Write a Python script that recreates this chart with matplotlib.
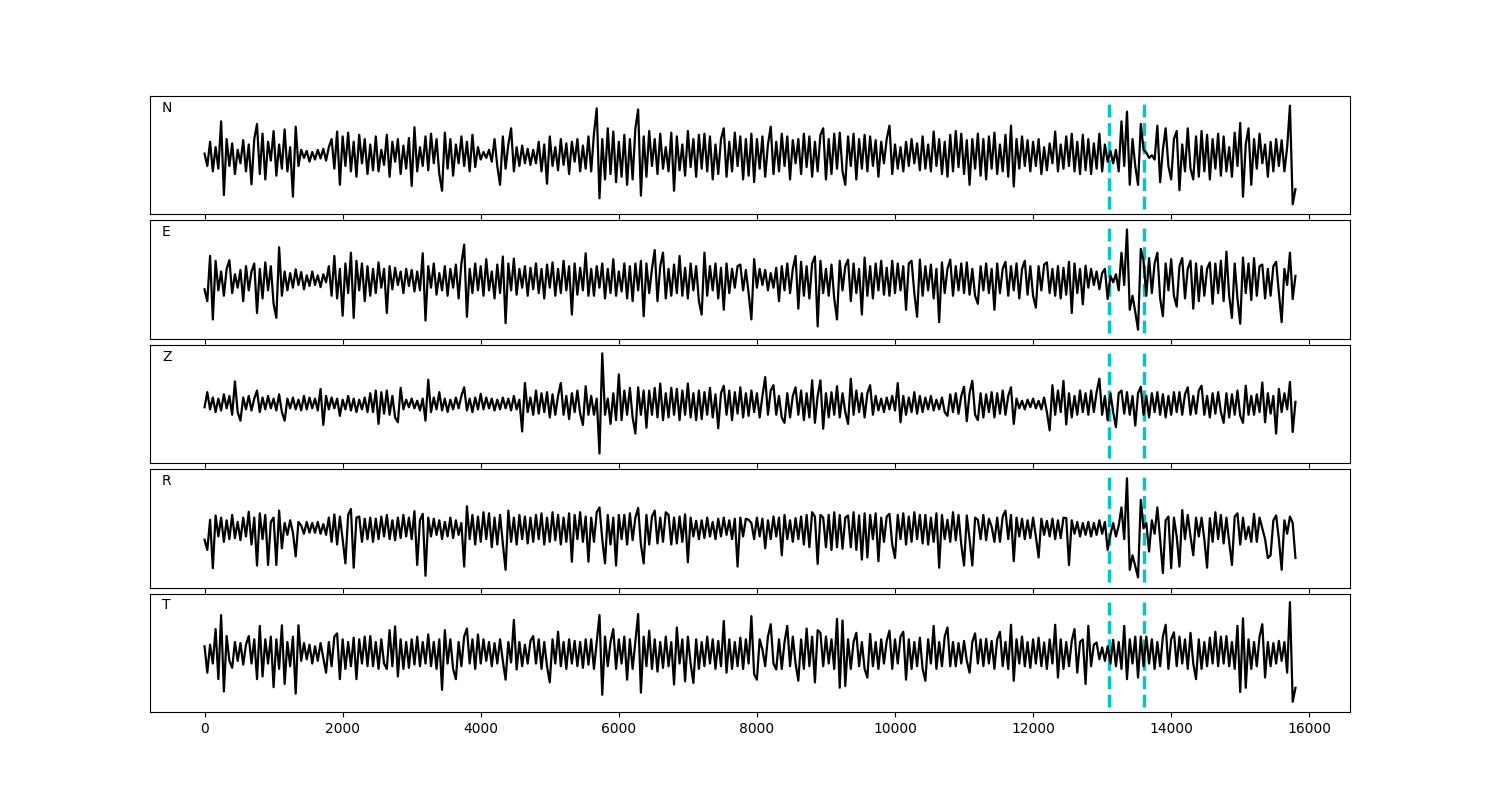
import numpy as np
import matplotlib
matplotlib.use("Agg")
import matplotlib.pyplot as plt

# sample spacing of the traces (x units)
dt = 40
# picks shown as dashed lines
picks = [13100, 13600]
labels = ["N", "E", "Z", "R", "T"]

# traces, amplitudes in 1/100 of the normalised scale
n_vals = [
    3, -20, 25, -30, 15, -25, 63, -74, 30, -20, 22, -35, 10, -15, 28, -30, 20, -54, 30, 58,
    -35, 40, -45, 25, -10, 45, -38, 20, -25, 48, -30, 15, -77, 53, -20, 10, -5, 8, -12, 6,
    -8, 10, -6, 12, -10, 15, 30, -25, 44, -55, 35, -20, 42, -30, 25, -40, 38, -15, 30, -35,
    20, -28, 35, -30, 10, -18, 38, -40, 25, -12, 30, -35, 18, -25, 32, -57, 52, -30, 15, -20,
    35, -28, 40, -15, 30, -35, -66, 42, -25, 30, -38, 20, -15, 35, -20, 25, -30, 38, -22, 15,
    -8, 6, -5, 10, -12, 30, -20, -55, 35, -25, 20, 50, -30, 15, -20, 18, -15, 12, -18, 10,
    -15, 25, -30, 20, -53, 35, -20, 15, -28, 30, -18, 22, -35, 25, -12, 30, -30, 18, -25, 35,
    -30, 40, 87, -80, 30, -45, 50, -35, 44, -50, 25, -40, 38, -55, 30, -45, 50, 85, -75, 35,
    -40, 45, -20, 30, -35, 40, -25, 15, -30, 42, -66, 35, -28, 20, -38, 45, -22, 30, -40, 38,
    -25, 40, -30, 35, -45, 20, -35, 30, 50, -40, 25, -30, 42, -20, 35, -45, 30, -38, 40, -50,
    30, -25, 35, -40, 20, 53, -35, 25, -30, 40, -20, 35, -45, 28, -15, 30, -35, 40, -22, 35,
    -40, 25, -30, 38, 50, -45, 30, -35, 40, -25, 42, -30, -55, 35, -20, 40, -45, 30, -25, 38,
    -30, 35, -20, 28, -40, 25, -15, 30, 55, -35, 20, -25, 15, -30, 25, -20, 30, -15, 22, -28,
    35, -25, 20, -30, 44, -20, 30, -35, 25, -40, 38, -30, 45, -22, 40, -35, 28, -55, 30, -25,
    40, -38, 30, -45, 35, -25, 42, -35, 20, -30, 38, -40, 55, -58, 30, -25, 35, -20, 28, -30,
    25, -20, 30, -35, 15, -28, 22, -15, 44, -30, 20, -25, 35, -20, 40, -30, 25, -35, 38, -28,
    30, -35, 22, -25, 40, -30, 20, -12, 8, -15, 10, -30, 63, -20, 81, -55, 30, -20, -55, 58,
    10, 5, -5, 0, -8, 55, -50, 10, 50, -20, -45, 30, 45, -65, 20, -30, 50, -25, -45, 35,
    -40, 45, -30, 38, -45, 30, -25, 40, -38, 35, -30, 15, -40, 42, -20, 60, -77, 20, 50, -55,
    30, -25, 40, -15, 20, -40, 25, -30, 30, -20, 28, -30, 15, 92, -91, -63,
]

e_vals = [
    -18, -40, 44, -74, 35, -20, 15, -30, 20, 36, -25, 10, -15, 18, -40, 25, -20, 15, 30, -62,
    20, -35, 32, -20, 25, -45, -71, 60, -30, 15, -20, 12, -15, 19, -10, 14, -18, 8, -12, 15,
    -10, 8, -14, 10, -5, 25, -30, 44, -35, 20, -67, 30, -25, 50, -71, 35, -20, 30, -40, 25,
    -30, 20, -25, 32, -15, 20, -62, 25, -18, 22, -10, 15, -25, 20, -12, 18, -22, 15, -20, 49,
    -76, 25, -15, 30, -28, 12, -20, 25, -30, 20, -15, 28, -35, 30, 65, -69, 20, -25, 30, -20,
    25, -30, 38, -20, 15, -35, 28, -25, 43, -81, 30, -20, 39, -28, 20, -15, 25, -30, 22, -18,
    30, -25, 20, -35, 28, -15, 32, -30, 20, -25, 35, -20, 25, -65, 30, -28, 22, -20, 49, -30,
    20, -30, 25, -15, 30, -35, 20, -25, 38, -30, 15, -22, 30, -35, 25, -40, 30, -20, 35, -68,
    30, -25, 20, 55, -40, 25, 50, -35, 20, -30, 28, -25, 44, -30, 22, -35, 30, -20, 25, -40,
    -65, 50, -30, 25, -20, 30, -35, 22, -56, 30, -25, 20, -15, 25, 28, -20, 18, -25, -74, 38,
    -15, 20, -10, 18, -20, 12, -15, 22, -40, 25, -20, 30, -25, 20, 44, -54, 33, -30, 25, -35,
    30, 43, -87, 35, -25, 20, -30, 28, -35, -74, 35, -20, 25, 37, -40, 30, -25, 20, -65, 41,
    -30, 25, -35, 30, -20, 35, -28, 22, -30, 35, -25, 30, -20, 25, -56, 30, 35, -25, -69, 37,
    -30, 25, -20, 28, -35, 20, -79, 32, -25, 20, 37, -30, 25, -20, 30, -25, 32, -28, 20, -30,
    -45, 25, -20, 30, -25, 20, -56, 30, -25, 20, 33, -30, 25, -20, 30, -35, 20, 35, -28, 25,
    -30, -52, 25, -20, 28, 32, -25, 20, -30, 25, -35, 22, -28, 33, -62, 30, -25, 20, -46, 26,
    -15, 20, -10, 15, -18, 12, 20, -36, 7, -5, 10, -20, 50, -10, 93, -56, -30, -60, -93, 57,
    35, -30, 40, -25, 30, 50, -35, -68, 30, -20, 38, -30, -50, 25, 40, -35, 20, 35, -54, 30,
    -40, 25, -30, 20, 32, -45, 30, -25, 35, -40, 52, -30, -71, 30, -35, -82, 41, -25, 30, -38,
    40, -30, 25, 28, -35, 20, -30, 25, 33, -25, -79, 20, -10, 50, -36, 7,
]

z_vals = [
    -6, 22, -10, 12, -15, 10, -12, 18, -8, 15, -20, 42, -15, -31, 12, -10, 15, -12, 10, 25,
    -15, 12, -10, 15, -8, 10, -12, 18, -15, -31, 10, -8, 12, -10, 8, -12, 15, -10, 12, -8,
    10, -12, 28, -39, 15, -10, 12, -8, 10, -22, 8, -10, 15, -12, 10, -15, 8, -10, 12, -15,
    20, -15, 25, -37, 22, -18, 25, -20, 15, -25, -34, 30, -10, 8, -6, 10, -8, 6, -12, 10,
    -31, 45, -15, 12, -10, 22, -12, 10, -15, 8, -10, 12, -8, 15, 31, -12, 10, -15, 12, -10,
    19, -10, 12, -8, 10, -12, 8, -10, 12, -8, 10, -12, 15, -10, 8, -51, 39, -15, 12, -20,
    25, -18, 20, -15, 22, -25, 18, -20, 15, 39, -20, 15, -28, 20, -15, 25, -18, -39, 33, -20,
    15, -20, 10, -92, 94, -20, 10, -37, 20, -30, 55, -30, 25, -20, 30, -25, -55, 31, -20, 25,
    -44, 25, -20, 30, -25, 38, -30, 20, -25, 30, -20, 28, -30, 25, -20, 38, -25, 20, -30, 25,
    -28, 22, -20, 30, -25, 18, -45, 20, 34, -20, 25, -30, 22, -18, 31, -25, 20, -22, 25, -15,
    20, -25, 15, 50, -20, 25, 35, -20, 15, -25, -35, 20, -25, 15, 31, -20, 25, -30, 20, -25,
    44, -35, 15, 44, -46, 20, -25, 22, -20, 33, -25, 20, -15, -37, 47, -20, 25, -15, 20, -25,
    20, 35, -20, 15, -12, 10, -15, 12, -10, 15, -12, 39, -34, 15, -20, 12, -15, 22, -18, 15,
    -15, 12, -10, 15, -12, 8, -10, 12, -15, -22, 18, -15, 20, -18, 15, 32, -32, 20, 43, -20,
    -30, 20, -25, 18, -15, 22, -25, 20, -18, 25, -20, 15, 31, -37, 10, -8, 6, -10, 8, -6,
    10, -8, 6, -10, 12, -15, -49, 35, -20, 25, -15, 43, -38, 20, -25, 15, -20, 25, -15, 20,
    -20, 25, -15, 22, 47, -20, 15, -30, 20, -15, -43, 20, 25, -18, 22, -20, 15, -40, 20, 32,
    -20, 15, -25, 20, -15, 22, -20, 18, -25, 15, -20, 22, -15, 22, -20, 18, 31, -20, 15, -18,
    25, 34, -20, 15, -25, 20, -18, 22, -15, -35, 20, -25, 18, -20, 25, -22, -35, 34, -20, 15,
    -20, 18, -15, 40, -34, 20, -18, 15, -55, 28, -15, 20, -10, 41, -52, 4,
]

r_vals = [
    -21, -40, 16, -74, 24, -15, 20, -25, 15, -20, 25, -18, 12, -22, 20, -15, 31, -30, 20, -69,
    28, -20, 25, -68, 12, 20, -68, 33, -37, 10, -12, 15, -8, -52, 12, 5, -10, 12, -8, 10,
    -8, 12, -10, 8, -12, 20, -25, 26, -30, 22, -20, -65, 25, 36, -73, 20, 22, -25, 18, -20,
    20, -25, 18, -20, 22, -15, 25, -20, 15, -22, 20, -18, 25, -15, 20, -20, 32, -68, 15, 27,
    -88, 20, -15, 18, -12, 15, -20, 12, -15, 20, -18, 15, -12, 10, -71, 41, -20, 25, -30, 22,
    -25, 30, -20, 28, -35, 20, -30, 25, -28, -77, 33, -25, 20, -30, 25, -20, 22, -28, 20, -25,
    25, -20, 28, -30, 20, -25, 30, -22, 25, -30, 20, -25, 28, -62, 25, -20, 30, -25, 22, -62,
    20, -25, 30, 39, -20, -65, 25, -30, 20, -69, 25, -20, 25, -30, 28, -22, 20, 38, -30, -65,
    25, -30, 22, 33, -28, 20, -25, 30, 25, -30, 20, -28, 22, -25, 26, -63, 20, -15, 14, -20,
    15, -18, 20, -15, 12, -20, 18, -15, 20, -12, 15, -20, 18, -71, 20, -15, 18, 16, 10, -20,
    20, -15, 18, -37, 15, -20, 22, -15, 20, -50, 25, -20, 15, -25, 19, -20, 22, -30, 25, -35,
    30, 22, -66, 25, 20, -35, 25, -40, 30, -35, 25, -38, 20, 24, -35, 30, -40, 24, -58, 28,
    -54, 25, -20, 28, -61, 20, -25, 22, 27, -30, -55, 25, -20, 28, -30, 22, -25, 30, -20, 25,
    -28, 25, -30, 20, -25, 28, -73, 25, -20, 16, -25, 30, -22, 25, -30, -69, 24, -20, -69, 20,
    16, -20, 25, -22, 18, 3, -25, 20, -25, 22, 33, -20, 25, -61, 20, -15, 18, -20, 15, -18,
    20, -15, -54, 18, -12, 14, -15, 18, -20, 15, -18, 20, 19, -68, 15, -10, 12, -15, 10, -12,
    12, -15, 10, -12, 15, -10, 12, -40, -12, 10, -15, 5, 39, -20, 93, -77, -50, -70, -91, 53,
    0, 10, -43, 15, -10, 39, -20, -83, 15, 22, -74, 20, -15, -71, 34, -20, 25, -15, -50, 20,
    -15, 20, -20, -73, 19, -25, 30, -20, 25, -28, 20, -25, -68, 22, 28, -30, 20, -20, 3, -25,
    27, -25, 20, 0, -20, -55, -50, 15, 24, -20, -77, 15, -10, 22, 10, -55,
]

t_vals = [
    12, -37, 15, -20, 44, -49, 70, -72, 31, -15, -28, 20, -15, 18, -22, 15, 31, -20, 25, -49,
    50, -44, 25, -20, 30, -64, 25, -30, 51, -58, 20, -25, 30, -76, 51, -15, 18, -12, 15, -20,
    12, -15, 18, -10, -37, 20, -25, 30, 36, -49, 25, -30, 20, -25, 28, -49, 25, -20, 30, -25,
    31, -25, 20, -30, 25, -20, -30, 42, -25, 49, -44, 25, -30, 20, -28, 25, -22, 30, -25, 20,
    -20, 34, -25, 20, -30, 25, -69, 42, -20, 25, -30, -49, 20, -25, 30, 45, -20, 25, -30, 34,
    -20, 25, -15, 20, -25, 18, -20, 25, -15, -50, 20, -18, 61, -31, 20, -25, 15, -20, 22, 31,
    -20, 25, -30, 20, -25, -55, 25, -20, 39, -25, 20, -30, 25, -20, 22, -25, 20, -28, 25, -22,
    25, -30, 20, 70, -78, 30, -25, 20, 44, -30, 25, -20, 30, -50, 25, -30, 20, 72, -74, 30,
    -25, 41, -30, 25, -35, 20, -28, 30, -25, 20, -59, 47, -20, 25, -53, 30, -20, -56, 25, -30,
    20, -25, 30, -20, 25, -30, 22, -25, 59, -37, 25, -30, 20, -25, 28, -30, 25, -20, 68, -40,
    -50, 25, 6, -25, 30, 53, -20, -31, 25, -30, 20, 50, -25, 30, -20, -52, 25, -30, 45, -25,
    30, -55, 42, 37, -25, 30, -20, 25, -30, 63, -65, 60, -62, 25, -30, 20, 37, -25, 20, -30,
    -46, 35, -25, 20, -30, 25, -20, 22, 41, -30, 25, -20, 30, 39, -50, 25, -30, 20, -25, 28,
    -30, -52, 25, -20, 50, -30, 20, -25, 30, 47, -25, 20, -25, 18, -20, 22, -15, -37, 20, 36,
    -20, 25, -25, 26, -20, 22, -30, 25, 39, -25, 20, -30, 52, -52, 25, -20, 30, -25, 20, -28,
    25, -20, 28, -25, 19, -30, 25, -20, 52, -46, 25, -30, 20, -25, 22, 44, -37, 20, 25, -58,
    50, -25, 15, 19, -12, 10, -15, 12, -20, 24, -25, 20, -30, 50, -49, 25, -20, 30, -46, 30,
    -25, 30, -20, 25, -30, 20, -25, 30, 52, -30, 25, 38, -25, 30, -20, 25, -30, 37, -20, -49,
    25, -30, 20, -25, 28, -20, 39, -25, 30, -20, 31, -25, 20, -30, 50, -73, 64, -65, 25, -30,
    20, -25, 30, 53, -46, 20, -25, 18, -20, 22, -15, 20, -37, 94, -91, -65,
]

traces = [n_vals, e_vals, z_vals, r_vals, t_vals]

fig, axes = plt.subplots(5, 1, sharex=True, figsize=(15, 8), dpi=100)
fig.subplots_adjust(left=0.1, right=0.9, top=0.88, bottom=0.11, hspace=0.05)

for ax, label, vals in zip(axes, labels, traces):
    y = np.array(vals) / 100.0
    x = np.arange(len(y)) * dt
    # dashed pick markers spanning the normalised range
    ax.vlines(picks, -1, 1, colors="#00c8c8", linestyles="dashed", linewidth=2.5)
    ax.plot(x, y, color="black", linewidth=1.6)
    ax.set_yticks([])
    ax.text(0.01, 0.9, label, transform=ax.transAxes, va="center", ha="left",
            fontsize=10)

axes[-1].set_xticks([0, 2000, 4000, 6000, 8000, 10000, 12000, 14000, 16000])

fig.savefig("out.png")
